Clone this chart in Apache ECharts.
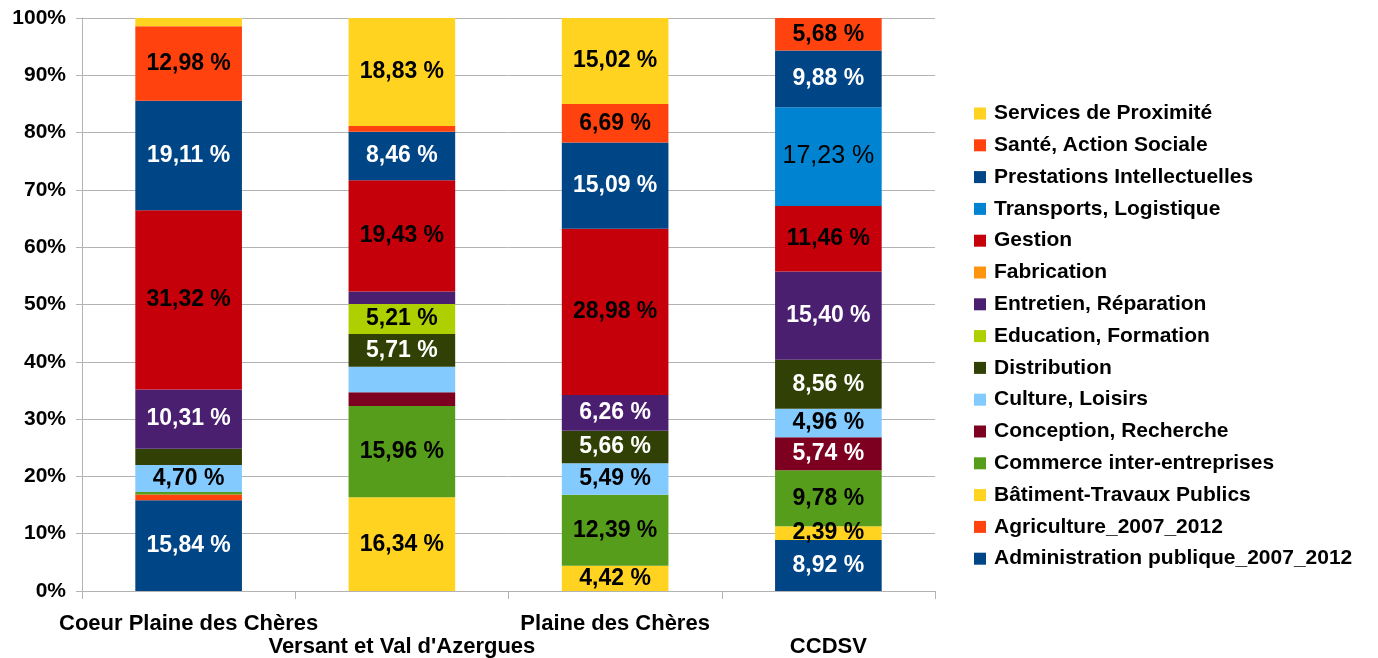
<!DOCTYPE html>
<html>
<head>
<meta charset="utf-8">
<script src="https://cdn.jsdelivr.net/npm/echarts@6/dist/echarts.min.js"></script>
<style>
  html, body { margin: 0; padding: 0; background: #fff; }
  #chart { width: 1378px; height: 658px; }
</style>
</head>
<body>
<div id="chart"></div>
<script>
// Territories (x axis)
const categories = ['Coeur Plaine des Chères', "Versant et Val d'Azergues", 'Plaine des Chères', 'CCDSV'];

// Share of each activity sector per territory, in percent (bottom to top of each bar)
const administration = [15.84, 0, 0, 8.92];
const agriculture    = [1.00, 0, 0, 0];
const batiment       = [0, 16.34, 4.42, 2.39];
const commerce       = [0.45, 15.96, 12.39, 9.78];
const conception     = [0, 2.40, 0, 5.74];
const culture        = [4.70, 4.45, 5.49, 4.96];
const distribution   = [2.85, 5.71, 5.66, 8.56];
const education      = [0, 5.21, 0, 0];
const entretien      = [10.31, 2.20, 6.26, 15.40];
const fabrication    = [0, 0, 0, 0];
const gestion        = [31.32, 19.43, 28.98, 11.46];
const transports     = [0, 0, 0, 17.23];
const prestations    = [19.11, 8.46, 15.09, 9.88];
const sante          = [12.98, 1.01, 6.69, 5.68];
const services       = [1.44, 18.83, 15.02, 0];

// Segments too thin to carry a value label: [series name, territory index]
const unlabelled = [
  ['Agriculture_2007_2012', 0], ['Commerce inter-entreprises', 0], ['Distribution', 0], ['Services de Proximité', 0],
  ['Conception, Recherche', 1], ['Culture, Loisirs', 1], ['Entretien, Réparation', 1], ['Santé, Action Sociale', 1]
];

const yTicks = { min: 0, max: 100, interval: 10 };

const seriesDefs = [
  { name: 'Administration publique_2007_2012', data: administration, color: '#004586', text: '#ffffff' },
  { name: 'Agriculture_2007_2012', data: agriculture, color: '#ff420e', text: '#000000' },
  { name: 'Bâtiment-Travaux Publics', data: batiment, color: '#ffd320', text: '#000000' },
  { name: 'Commerce inter-entreprises', data: commerce, color: '#579d1c', text: '#000000' },
  { name: 'Conception, Recherche', data: conception, color: '#7e0021', text: '#ffffff' },
  { name: 'Culture, Loisirs', data: culture, color: '#83caff', text: '#000000' },
  { name: 'Distribution', data: distribution, color: '#314004', text: '#ffffff' },
  { name: 'Education, Formation', data: education, color: '#aecf00', text: '#000000' },
  { name: 'Entretien, Réparation', data: entretien, color: '#4b1f6f', text: '#ffffff' },
  { name: 'Fabrication', data: fabrication, color: '#ff950e', text: '#000000' },
  { name: 'Gestion', data: gestion, color: '#c5000b', text: '#000000' },
  { name: 'Transports, Logistique', data: transports, color: '#0084d1', text: '#000000', light: true },
  { name: 'Prestations Intellectuelles', data: prestations, color: '#004586', text: '#ffffff' },
  { name: 'Santé, Action Sociale', data: sante, color: '#ff420e', text: '#000000' },
  { name: 'Services de Proximité', data: services, color: '#ffd320', text: '#000000' }
];

const FONT = '"Liberation Sans", Arial, sans-serif';
const fmt = v => v.toFixed(2).replace('.', ',') + ' %';

const series = seriesDefs.map(def => ({
  name: def.name,
  type: 'bar',
  stack: 'total',
  barWidth: '50%',
  itemStyle: { color: def.color },
  emphasis: { disabled: true },
  label: {
    show: true,
    position: 'inside',
    color: def.text,
    fontFamily: FONT,
    fontWeight: def.light ? 'normal' : 'bold',
    fontSize: def.light ? 25 : 23,
    formatter: p => fmt(p.value)
  },
  data: def.data.map((v, i) => {
    const hidden = v === 0 || unlabelled.some(u => u[0] === def.name && u[1] === i);
    return hidden ? { value: v, label: { show: false } } : v;
  })
}));

const chart = echarts.init(document.getElementById('chart'), null, { renderer: 'canvas' });
chart.setOption({
  animation: false,
  backgroundColor: '#ffffff',
  grid: { left: 82, right: 443, top: 18, bottom: 66, containLabel: false },
  legend: {
    orient: 'vertical',
    left: 969,
    top: 98,
    icon: 'rect',
    itemWidth: 12,
    itemHeight: 12,
    itemGap: 10.8,
    selectedMode: false,
    data: seriesDefs.map(d => d.name).reverse(),
    textStyle: { fontFamily: FONT, fontWeight: 'bold', fontSize: 21, color: '#000', padding: [0, 0, 0, 3] }
  },
  xAxis: {
    type: 'category',
    data: categories,
    axisLine: { lineStyle: { color: '#b3b3b3' } },
    axisTick: { show: true, length: 8, lineStyle: { color: '#b3b3b3' } },
    axisLabel: {
      interval: 0,
      margin: 21,
      color: '#000',
      fontFamily: FONT,
      fontWeight: 'bold',
      fontSize: 22,
      lineHeight: 23,
      formatter: (v, i) => (i % 2 === 1 ? '\n' + v : v)
    }
  },
  yAxis: {
    type: 'value',
    min: yTicks.min,
    max: yTicks.max,
    interval: yTicks.interval,
    axisLine: { show: true, lineStyle: { color: '#b3b3b3' } },
    axisTick: { show: true, length: 6, lineStyle: { color: '#b3b3b3' } },
    splitLine: { lineStyle: { color: '#b3b3b3' } },
    axisLabel: {
      margin: 16,
      color: '#000',
      fontFamily: FONT,
      fontWeight: 'bold',
      fontSize: 21,
      formatter: '{value}%'
    }
  },
  series: series
});
</script>
</body>
</html>
